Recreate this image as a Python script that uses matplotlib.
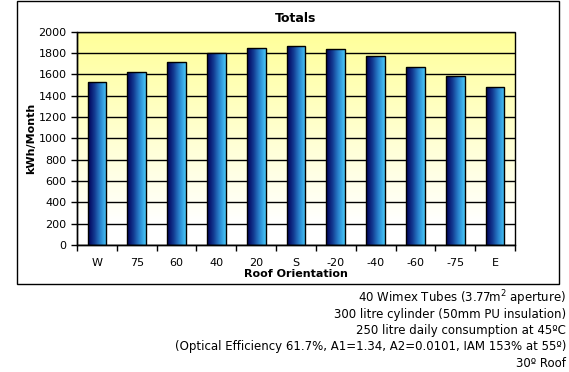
import numpy as np
import matplotlib.pyplot as plt
from matplotlib.colors import LinearSegmentedColormap
from matplotlib.patches import Rectangle

# data
orientations = ["W", "75", "60", "40", "20", "S", "-20", "-40", "-60", "-75", "E"]
kwh_month = [1530, 1625, 1710, 1800, 1850, 1860, 1840, 1768, 1665, 1580, 1478]
notes = [
    "40 Wimex Tubes (3.77m$^2$ aperture)",
    "300 litre cylinder (50mm PU insulation)",
    "250 litre daily consumption at 45\u00baC",
    "(Optical Efficiency 61.7%, A1=1.34, A2=0.0101, IAM 153% at 55\u00ba)",
    "30\u00ba Roof",
]

W, H = 569, 372
fig = plt.figure(figsize=(W / 100, H / 100), dpi=100)
plt.rcParams["font.family"] = ["DejaVu Sans"]

# outer chart frame
fig.patches.append(Rectangle((17 / W, 1 - 284 / H), (559 - 17) / W, (284 - 1) / H,
                             transform=fig.transFigure, fill=False,
                             edgecolor="black", lw=1.0))

ax = fig.add_axes([77 / W, 1 - 245 / H, (515 - 77) / W, (245 - 31.5) / H])
x = np.arange(len(orientations))
ax.set_xlim(-0.5, len(orientations) - 0.5)
ax.set_ylim(0, 2000)

# background: pale yellow at top fading to white near the bottom
bg = LinearSegmentedColormap.from_list(
    "bg", [(0.0, "#ffffff"), (0.1, "#ffffff"), (1.0, "#ffff99")])
ax.imshow(np.linspace(0, 1, 512).reshape(-1, 1), cmap=bg, aspect="auto",
          extent=[-0.5, len(orientations) - 0.5, 0, 2000], origin="lower",
          interpolation="nearest", zorder=0)

ax.yaxis.grid(True, color="black", lw=1.0, zorder=1)
ax.set_axisbelow(True)

# bars with horizontal navy -> cyan gradient
bar_cmap = LinearSegmentedColormap.from_list(
    "bar", ["#000058", "#12388f", "#2a86d0", "#48c8f8"])
grad = np.linspace(0, 1, 64).reshape(1, -1)
bw = 0.47
bars = ax.bar(x, kwh_month, width=bw, color="none", edgecolor="black", lw=1.0, zorder=3)
for b in bars:
    x0, y0 = b.get_x(), b.get_y()
    im = ax.imshow(grad, cmap=bar_cmap, aspect="auto",
                   extent=[x0, x0 + b.get_width(), y0, y0 + b.get_height()],
                   zorder=2)
    im.set_clip_path(b)

ax.set_xticks(np.arange(-0.5, len(orientations), 1.0))
ax.set_xticklabels([])
ax.set_xticks(x, minor=True)
ax.set_xticklabels(orientations, minor=True, fontsize=8)
ax.tick_params(axis="x", which="major", length=4, direction="out", width=1)
ax.tick_params(axis="x", which="minor", length=0, pad=9)
ax.set_yticks(np.arange(0, 2001, 200))
ax.tick_params(axis="y", length=4, width=1, labelsize=8)

for s in ["top", "right"]:
    ax.spines[s].set_visible(False)
for s in ["left", "bottom"]:
    ax.spines[s].set_linewidth(1.0)
# right/top borders drawn as a plain rectangle
ax.add_patch(Rectangle((0, 0), 1, 1, transform=ax.transAxes, fill=False,
                       edgecolor="black", lw=1.0, zorder=4, clip_on=False))

ax.set_title("Totals", fontsize=9, fontweight="bold", pad=7)
ax.set_ylabel("kWh/Month", fontsize=8, fontweight="bold", labelpad=2)
ax.set_xlabel("Roof Orientation", fontsize=8, fontweight="bold", labelpad=1)

# notes below, right aligned
for i, line in enumerate(notes):
    fig.text(566 / W, 1 - (298 + i * 16.3) / H, line, ha="right", va="center", fontsize=8.5)

fig.savefig("out.png", dpi=100)
